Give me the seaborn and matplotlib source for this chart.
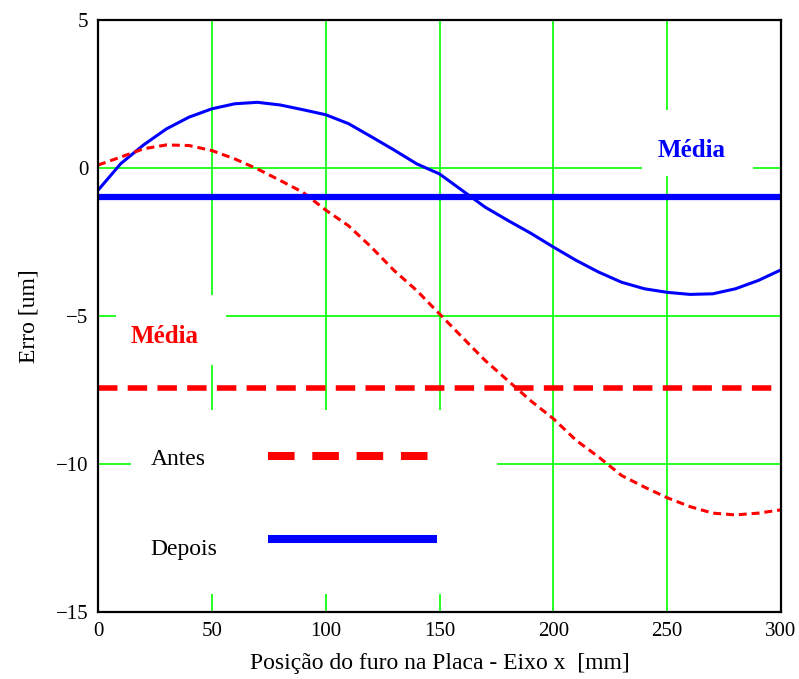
import matplotlib
matplotlib.use("Agg")
import matplotlib.pyplot as plt
import pandas as pd
import seaborn as sns
from matplotlib.patches import Rectangle
from matplotlib.lines import Line2D

# posicao do furo (mm)
posicao = [0, 10, 20, 30, 40, 50, 60, 70, 80, 90, 100, 110, 120, 130, 140, 150,
           160, 170, 180, 190, 200, 210, 220, 230, 240, 250, 260, 270, 280, 290, 300]

# erro antes da compensacao (um)
erro_antes = [0.1, 0.37, 0.65, 0.78, 0.76, 0.59, 0.31, -0.03, -0.42, -0.82, -1.42,
              -1.95, -2.67, -3.46, -4.14, -4.93, -5.72, -6.5, -7.18, -7.86, -8.47,
              -9.2, -9.77, -10.39, -10.78, -11.14, -11.44, -11.66, -11.72, -11.66, -11.55]

# erro depois da compensacao (um)
erro_depois = [-0.75, 0.15, 0.78, 1.32, 1.72, 2.0, 2.17, 2.22, 2.13, 1.97, 1.8,
               1.5, 1.06, 0.61, 0.14, -0.2, -0.76, -1.32, -1.77, -2.2, -2.67,
               -3.12, -3.52, -3.86, -4.08, -4.2, -4.27, -4.25, -4.08, -3.8, -3.44]

media_antes = -7.43
media_depois = -0.98

df = pd.DataFrame({'x': posicao, 'antes': erro_antes, 'depois': erro_depois})

sns.set_style("white")
plt.rcParams['font.family'] = ['Liberation Serif', 'DejaVu Serif']
plt.rcParams['text.color'] = 'black'
plt.rcParams['axes.labelcolor'] = 'black'
plt.rcParams['xtick.color'] = 'black'
plt.rcParams['ytick.color'] = 'black'

fig = plt.figure(figsize=(7.99, 6.79), dpi=100)
ax = fig.add_axes([0.1227, 0.0987, 0.8548, 0.8718])

ax.set_axisbelow(True)
ax.grid(True, color='#00ff00', linewidth=1.2)

# white boxes behind the labels (they cut the grid)
for (x0, y0, w, h) in [(0.7965, 0.7365, 0.1625, 0.1115),
                       (0.0264, 0.4172, 0.161, 0.1183),
                       (0.0483, 0.0304, 0.5359, 0.3108)]:
    ax.add_patch(Rectangle((x0, y0), w, h, transform=ax.transAxes,
                           facecolor='white', edgecolor='none', zorder=1))

sns.lineplot(data=df, x='x', y='depois', ax=ax, color='#0000ff', linewidth=2.2, zorder=3)
sns.lineplot(data=df, x='x', y='antes', ax=ax, color='#ff0000', linewidth=2.2,
             linestyle=(0, (2.6, 1.6)), zorder=3)

ax.axhline(media_depois, color='#0000ff', linewidth=4.5, zorder=3)
ax.axhline(media_antes, color='#ff0000', linewidth=4.0, linestyle=(0, (3.5, 1.85)), zorder=3)

# textos "Média"
ax.text(0.8697, 0.768, 'Média', transform=ax.transAxes, color='#0000ff',
        fontsize=18, fontweight='bold', ha='center', va='baseline', zorder=4)
ax.text(0.0981, 0.4549, 'Média', transform=ax.transAxes, color='#ff0000',
        fontsize=18, fontweight='bold', ha='center', va='baseline', zorder=4)

# legenda manual
ax.text(0.0776, 0.2483, 'Antes', transform=ax.transAxes, fontsize=17, va='baseline', zorder=4)
ax.text(0.0762, 0.0963, 'Depois', transform=ax.transAxes, fontsize=17, va='baseline', zorder=4)
ax.add_line(Line2D([0.249, 0.486], [0.2635, 0.2635], transform=ax.transAxes,
                   color='#ff0000', linewidth=5.8, linestyle=(0, (3.3, 2.2)),
                   dash_capstyle='butt', zorder=4))
ax.add_line(Line2D([0.249, 0.496], [0.1233, 0.1233], transform=ax.transAxes,
                   color='#0000ff', linewidth=5.8, solid_capstyle='butt', zorder=4))

ax.set_xlim(0, 300)
ax.set_ylim(-15, 5)
ax.set_xticks([0, 50, 100, 150, 200, 250, 300])
ax.set_yticks([-15, -10, -5, 0, 5])
ax.tick_params(length=0, labelsize=15, pad=7)

ax.set_xlabel('Posição do furo na Placa - Eixo x  [mm]', fontsize=17, labelpad=9)
ax.set_ylabel('Erro [um]', fontsize=17, labelpad=12)

for s in ax.spines.values():
    s.set_color('black')
    s.set_linewidth(1.6)
    s.set_zorder(5)

fig.savefig('out.png', dpi=100)
